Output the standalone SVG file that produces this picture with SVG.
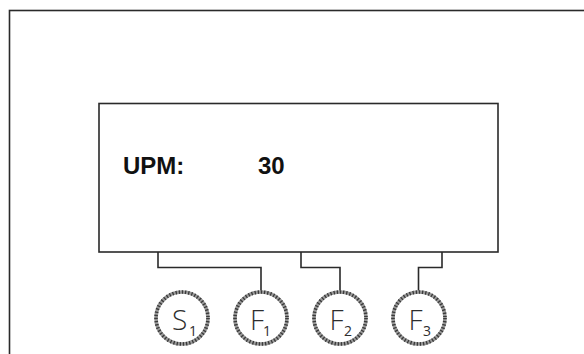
<svg xmlns="http://www.w3.org/2000/svg" width="584" height="354" viewBox="0 0 584 354">
  <style>
    .frame { fill: none; stroke: #2a2a2a; stroke-width: 1.6; }
    .conn { fill: none; stroke: #2a2a2a; stroke-width: 1.6; }
    .ring { fill: #ffffff; stroke: #9a9a9a; stroke-width: 3.6; }
    .ringhatch { fill: none; stroke: #3a3a3a; stroke-width: 3.6; stroke-dasharray: 1.3 1.9; }
    .lbl { font-family: "Liberation Sans", Arial, sans-serif; font-weight: bold; font-size: 24px; fill: #111111; }
    .sym { font-family: "Open Sans", "DejaVu Sans", sans-serif; font-weight: 300; font-size: 28px; fill: #2e2e2e; }
    .sub { font-size: 14px; font-weight: 400; }
  </style>
  <rect x="0" y="0" width="584" height="354" fill="#ffffff"/>
  <rect class="frame" x="9.5" y="10.5" width="620" height="400"/>
  <g id="display">
    <rect class="frame" x="99" y="103.5" width="399" height="148.5" fill="#ffffff"/>
    <text class="lbl" x="123" y="174">UPM:</text>
    <text class="lbl" x="258" y="174">30</text>
  </g>
  <g id="connectors">
    <path class="conn" d="M158,252 V267.5 H261 V292"/>
    <path class="conn" d="M301,252 V267.5 H340 V292"/>
    <path class="conn" d="M442,252 V267.5 H418.5 V292"/>
  </g>
  <g id="S1">
    <circle class="ring" cx="182" cy="318" r="26"/>
    <circle class="ringhatch" cx="182" cy="318" r="26"/>
    <text class="sym" x="172" y="329.5">S<tspan class="sub" x="189" y="335.5">1</tspan></text>
  </g>
  <g id="F1">
    <circle class="ring" cx="261" cy="318" r="26"/>
    <circle class="ringhatch" cx="261" cy="318" r="26"/>
    <text class="sym" x="250" y="329.5">F<tspan class="sub" x="263" y="335.5">1</tspan></text>
  </g>
  <g id="F2">
    <circle class="ring" cx="340" cy="318" r="26"/>
    <circle class="ringhatch" cx="340" cy="318" r="26"/>
    <text class="sym" x="329.5" y="329.5">F<tspan class="sub" x="344" y="335.5">2</tspan></text>
  </g>
  <g id="F3">
    <circle class="ring" cx="419" cy="318" r="26"/>
    <circle class="ringhatch" cx="419" cy="318" r="26"/>
    <text class="sym" x="408.5" y="329.5">F<tspan class="sub" x="423" y="335.5">3</tspan></text>
  </g>
</svg>
